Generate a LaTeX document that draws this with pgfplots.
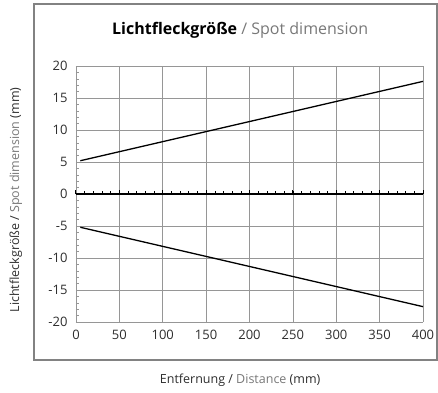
\documentclass[border=0pt]{standalone}
\usepackage{pgfplots}
\pgfplotsset{compat=1.18}
\usepackage{fontspec}
\setmainfont{Open Sans}
\definecolor{gridgray}{RGB}{150,150,150}
\definecolor{framegray}{RGB}{130,130,130}
\definecolor{txtgray}{RGB}{120,120,120}
\definecolor{txtdark}{RGB}{45,45,45}
\begin{document}
\begin{tikzpicture}
\useasboundingbox (-76pt,-70pt) rectangle (362pt,322pt);
\draw[framegray, line width=1.2pt] (-42pt,-38pt) rectangle (361pt,318pt);
\begin{axis}[
    at={(0pt,0pt)}, anchor=south west,
    scale only axis,
    width=347pt, height=256pt,
    xmin=0, xmax=400, ymin=-20, ymax=20,
    xtick={0,50,...,400},
    ytick={-20,-15,...,20},
    minor y tick num=4,
    grid=major,
    major grid style={gridgray, line width=0.6pt},
    axis line style={gridgray, line width=0.8pt},
    axis x line*=bottom, axis y line*=left,
    major tick length=0pt,
    minor tick length=3pt,
    tick align=inside,
    minor tick style={gridgray, line width=0.5pt},
    tick label style={font=\fontsize{13}{15}\selectfont, text=txtdark},
    /pgf/number format/assume math mode=true,
    xticklabel style={yshift=-5pt},
    yticklabel style={xshift=-5pt},
    title={\textbf{Lichtfleckgröße} \textcolor{txtgray}{/ Spot dimension}},
    title style={at={(axis description cs:0.473,1.117)}, anchor=center, font=\fontsize{16}{18}\selectfont},
    xlabel={Entfernung / \textcolor{txtgray}{Distance} (mm)},
    xlabel style={at={(axis description cs:0.473,-0.227)}, anchor=center, text=txtdark, font=\fontsize{12.5}{14}\selectfont},
    ylabel={Lichtfleckgröße / \textcolor{txtgray}{Spot dimension} (mm)},
    ylabel style={at={(axis description cs:-0.173,0.477)}, anchor=center, rotate=0, text=txtdark, font=\fontsize{12.5}{14}\selectfont},
    clip=false,
]
\addplot[black, line width=1.3pt] coordinates {(5,5.2) (400,17.6)};
\addplot[black, line width=1.3pt] coordinates {(5,-5.2) (400,-17.6)};
\draw[black, line width=1.2pt] (axis cs:0,0) -- (axis cs:400,0);
\pgfplotsinvokeforeach{10,20,...,390}{
  \draw[black, line width=0.6pt] (axis cs:#1,0) -- ++(0pt,3pt);
}
\pgfplotsinvokeforeach{0,50,...,400}{
  \draw[black, line width=1pt] (axis cs:#1,0) -- ++(0pt,4.5pt);
}
\end{axis}
\end{tikzpicture}
\end{document}
